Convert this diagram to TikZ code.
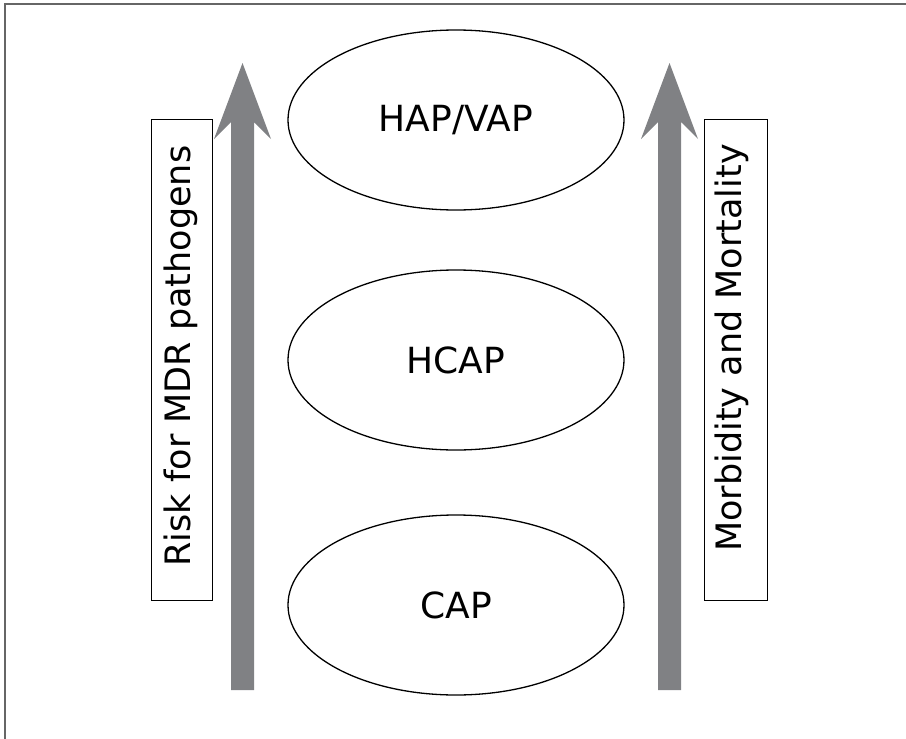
\documentclass[tikz,border=0pt]{standalone}
\usepackage{fontspec}
\setmainfont{DejaVu Sans}
\usetikzlibrary{shapes.geometric}
\definecolor{arrowgray}{HTML}{808184}
\definecolor{framegray}{HTML}{666666}
\tikzset{
  stage/.style={ellipse, draw=black, line width=1.3pt, minimum width=336pt, minimum height=180pt, inner sep=0pt, font=\fontsize{36}{40}\selectfont},
  sidebox/.style={draw=black, line width=1pt},
  sidetext/.style={rotate=90, anchor=base, inner sep=0pt, font=\fontsize{35}{40}\selectfont},
  bigarrow/.style={fill=arrowgray},
}
\begin{document}
\begin{tikzpicture}[x=1pt,y=-1pt]
\useasboundingbox (0,0) rectangle (906,739);
% frame (only top and left edges visible)
\draw[framegray, line width=2pt] (5,739) -- (5,4) -- (906,4);
% side boxes
\draw[sidebox] (151,119) rectangle (212,600);
\draw[sidebox] (704,119) rectangle (767,600);
\node[sidetext] (risk) at (190,356) {Risk for MDR pathogens};
\node[sidetext] (morb) at (741,348) {Morbidity and Mortality};
% arrows
\fill[bigarrow] (231,690) -- (231,122) -- (214,139) -- (242.5,63) -- (271,139) -- (254,122) -- (254,690) -- cycle;
\fill[bigarrow] (658,690) -- (658,122) -- (641,139) -- (669.5,63) -- (698,139) -- (681,122) -- (681,690) -- cycle;
% ellipses
\node[stage] (hap) at (456,120) {HAP/VAP};
\node[stage] (hcap) at (456,360) {HCAP};
\node[stage] (cap) at (456,605) {CAP};
\end{tikzpicture}
\end{document}
